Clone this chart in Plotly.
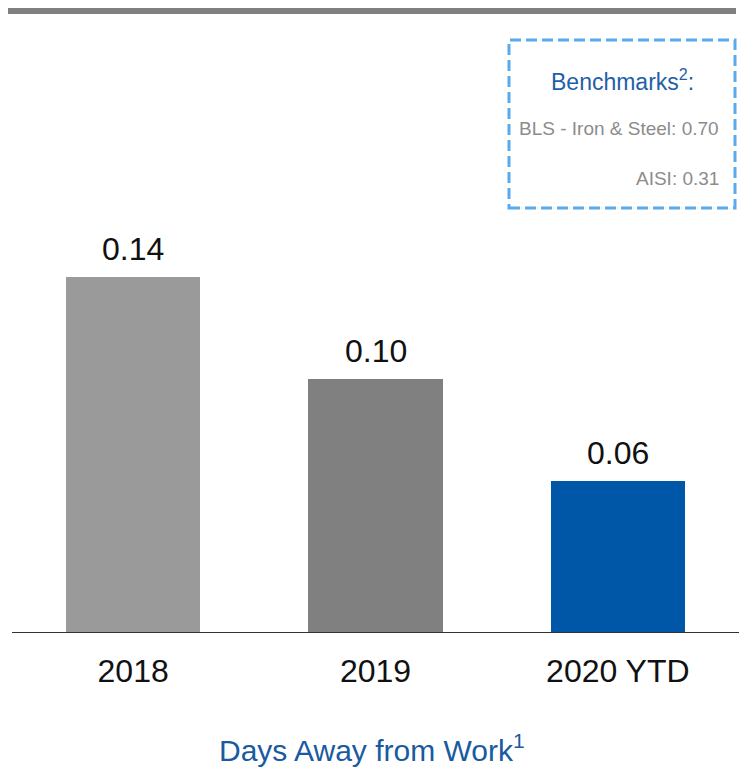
import plotly.graph_objects as go

categories = ["2018", "2019", "2020 YTD"]
values = [0.14, 0.10, 0.06]
value_labels = ["0.14", "0.10", "0.06"]
bar_colors = ["#9a9a9a", "#808080", "#0057a8"]
benchmark_title = "Benchmarks<sup>2</sup>:"
benchmark_lines = ["BLS - Iron & Steel: 0.70", "AISI: 0.31"]
x_title = "Days Away from Work<sup>1</sup>"

FONT = "Liberation Sans Narrow, Arial Narrow, Liberation Sans, Arial, sans-serif"

W, H = 741, 771
L, R, T, B = 12, 2, 0, 138
PW, PH = W - L - R, H - T - B


def px(x):
    return (x - L) / PW


def py(y):
    return (H - B - y) / PH


fig = go.Figure()
fig.add_trace(go.Bar(
    x=categories, y=values, marker=dict(color=bar_colors, line=dict(width=0)),
    width=0.553, hoverinfo="skip",
))

for i, (v, t) in enumerate(zip(values, value_labels)):
    fig.add_annotation(x=i, y=v, text=t, showarrow=False, yanchor="bottom",
                       yshift=8, font=dict(family=FONT, size=32, color="#111111"))

fig.add_shape(type="line", xref="paper", yref="paper", x0=px(8), x1=px(736),
              y0=py(11), y1=py(11), line=dict(color="#808080", width=6))
fig.add_shape(type="line", xref="paper", yref="y", x0=0, x1=1, y0=0, y1=0,
              line=dict(color="#333333", width=2))
fig.add_shape(type="rect", xref="paper", yref="paper", x0=px(509), x1=px(735),
              y0=py(208), y1=py(40), line=dict(color="#5aaaf0", width=3, dash="11px,5px"))

fig.add_annotation(xref="paper", yref="paper", x=px(622), y=py(80), text=benchmark_title,
                   showarrow=False, xanchor="center", yanchor="middle",
                   font=dict(family=FONT, size=23, color="#1f5fa8"))
fig.add_annotation(xref="paper", yref="paper", x=px(721), y=py(128), text=benchmark_lines[0],
                   showarrow=False, xanchor="right", yanchor="middle",
                   font=dict(family=FONT, size=19, color="#8c8c8c"))
fig.add_annotation(xref="paper", yref="paper", x=px(721), y=py(178), text=benchmark_lines[1],
                   showarrow=False, xanchor="right", yanchor="middle",
                   font=dict(family=FONT, size=19, color="#8c8c8c"))
fig.add_annotation(xref="paper", yref="paper", x=px(372), y=py(748), text=x_title,
                   showarrow=False, xanchor="center", yanchor="middle",
                   font=dict(family=FONT, size=30, color="#1a5aa0"))

fig.update_layout(
    width=W, height=H, margin=dict(l=L, r=R, t=T, b=B, pad=0),
    paper_bgcolor="white", plot_bgcolor="white", showlegend=False, bargap=0,
    xaxis=dict(type="category", range=[-0.5, 2.5], showgrid=False, zeroline=False,
               showline=False, ticks="", ticklabelstandoff=16,
               tickfont=dict(family=FONT, size=32, color="#111111")),
    yaxis=dict(range=[0, (H - B - T) / 2540], visible=False, showgrid=False, zeroline=False),
)

fig.write_html("out.html")
